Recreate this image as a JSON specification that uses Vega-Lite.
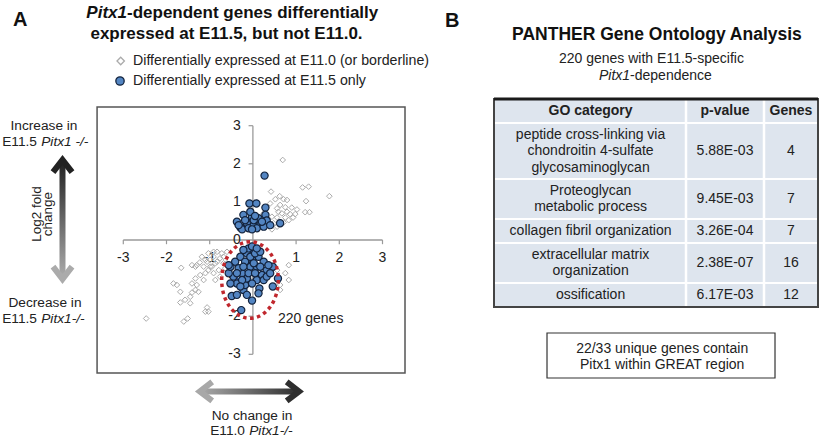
{
"$schema":"https://vega.github.io/schema/vega-lite/v6.json",
"padding":0,"spacing":0,"background":"white",
"config":{"view":{"stroke":null},"font":"Liberation Sans","text":{"color":"#222222"}},
"datasets":{
"genes":[
{"x":0.69,"y":2.10,"set":"g"},{"x":0.42,"y":1.27,"set":"g"},{"x":1.15,"y":1.38,"set":"g"},{"x":1.29,"y":1.40,"set":"g"},{"x":1.77,"y":1.15,"set":"g"},{"x":1.23,"y":1.02,"set":"g"},{"x":1.21,"y":0.73,"set":"g"},{"x":1.31,"y":0.73,"set":"g"},{"x":0.62,"y":1.15,"set":"g"},{"x":0.79,"y":1.05,"set":"g"},{"x":0.71,"y":1.07,"set":"g"},{"x":0.52,"y":1.07,"set":"g"},{"x":0.40,"y":0.96,"set":"g"},{"x":0.63,"y":0.92,"set":"g"},{"x":0.56,"y":0.83,"set":"g"},{"x":0.75,"y":0.86,"set":"g"},{"x":0.90,"y":0.85,"set":"g"},{"x":0.79,"y":0.74,"set":"g"},{"x":0.67,"y":0.70,"set":"g"},{"x":0.86,"y":0.68,"set":"g"},{"x":0.93,"y":0.59,"set":"g"},{"x":0.75,"y":0.59,"set":"g"},{"x":0.56,"y":0.59,"set":"g"},{"x":0.48,"y":0.44,"set":"g"},{"x":0.36,"y":0.37,"set":"g"},{"x":0.44,"y":0.28,"set":"g"},{"x":0.56,"y":0.35,"set":"g"},{"x":0.71,"y":0.46,"set":"g"},{"x":0.83,"y":0.52,"set":"g"},{"x":0.32,"y":0.52,"set":"g"},{"x":0.44,"y":0.61,"set":"g"},{"x":0.59,"y":0.74,"set":"g"},{"x":0.25,"y":0.70,"set":"g"},{"x":0.98,"y":0.68,"set":"g"},{"x":1.02,"y":0.80,"set":"g"},
{"x":-2.47,"y":-2.06,"set":"g"},{"x":-1.66,"y":-0.73,"set":"g"},{"x":-1.84,"y":-1.14,"set":"g"},{"x":-1.76,"y":-1.18,"set":"g"},{"x":-1.68,"y":-1.36,"set":"g"},{"x":-1.68,"y":-1.64,"set":"g"},{"x":-1.57,"y":-1.57,"set":"g"},{"x":-1.45,"y":-1.49,"set":"g"},{"x":-1.41,"y":-1.38,"set":"g"},{"x":-1.33,"y":-1.31,"set":"g"},{"x":-1.26,"y":-1.36,"set":"g"},{"x":-1.30,"y":-1.18,"set":"g"},{"x":-1.41,"y":-1.14,"set":"g"},{"x":-1.33,"y":-1.01,"set":"g"},{"x":-1.22,"y":-0.92,"set":"g"},{"x":-1.10,"y":-0.87,"set":"g"},{"x":-1.14,"y":-0.70,"set":"g"},{"x":-1.30,"y":-0.66,"set":"g"},{"x":-1.41,"y":-0.66,"set":"g"},{"x":-1.23,"y":-0.59,"set":"g"},{"x":-1.06,"y":-0.57,"set":"g"},{"x":-0.99,"y":-0.52,"set":"g"},{"x":-0.91,"y":-0.44,"set":"g"},{"x":-1.03,"y":-0.35,"set":"g"},{"x":-0.83,"y":-0.31,"set":"g"},{"x":-0.72,"y":-0.35,"set":"g"},{"x":-0.68,"y":-0.44,"set":"g"},{"x":-0.83,"y":-0.57,"set":"g"},{"x":-0.95,"y":-0.70,"set":"g"},{"x":-1.03,"y":-0.79,"set":"g"},{"x":-0.91,"y":-0.87,"set":"g"},{"x":-0.79,"y":-0.79,"set":"g"},{"x":-1.60,"y":-2.14,"set":"g"},{"x":-1.51,"y":-2.06,"set":"g"},{"x":-1.06,"y":-1.77,"set":"g"},{"x":-1.03,"y":-1.88,"set":"g"},{"x":-1.10,"y":-1.88,"set":"g"},{"x":-0.51,"y":-0.77,"set":"g"},{"x":-0.60,"y":-0.61,"set":"g"},{"x":-0.64,"y":-0.74,"set":"g"},{"x":-0.76,"y":-0.96,"set":"g"},{"x":-0.87,"y":-1.05,"set":"g"},{"x":-1.14,"y":-1.05,"set":"g"},{"x":-1.45,"y":-1.66,"set":"g"},{"x":-1.18,"y":-0.44,"set":"g"},{"x":-1.33,"y":-0.70,"set":"g"},{"x":-0.99,"y":-0.70,"set":"g"},{"x":-0.68,"y":-0.61,"set":"g"},{"x":-1.10,"y":-0.52,"set":"g"},{"x":-0.91,"y":-0.31,"set":"g"},{"x":-0.60,"y":-0.31,"set":"g"},{"x":-0.76,"y":-0.48,"set":"g"},{"x":-0.87,"y":-0.61,"set":"g"},
{"x":0.83,"y":-0.66,"set":"g"},{"x":0.83,"y":-1.05,"set":"g"},{"x":0.63,"y":-1.31,"set":"g"},{"x":0.63,"y":-1.18,"set":"g"},{"x":0.56,"y":-0.79,"set":"g"},{"x":0.75,"y":-0.87,"set":"g"},
{"x":0.27,"y":1.69,"set":"b"},{"x":-0.08,"y":0.96,"set":"b"},{"x":0.08,"y":0.96,"set":"b"},{"x":0.29,"y":0.85,"set":"b"},{"x":0.63,"y":0.44,"set":"b"},{"x":-0.37,"y":0.48,"set":"b"},{"x":-0.22,"y":0.66,"set":"b"},{"x":-0.02,"y":0.61,"set":"b"},{"x":0.13,"y":0.57,"set":"b"},{"x":0.29,"y":0.66,"set":"b"},{"x":0.32,"y":0.51,"set":"b"},{"x":-0.29,"y":0.33,"set":"b"},{"x":-0.14,"y":0.44,"set":"b"},{"x":0.02,"y":0.39,"set":"b"},{"x":0.17,"y":0.39,"set":"b"},{"x":-0.25,"y":0.28,"set":"b"},{"x":-0.10,"y":0.31,"set":"b"},{"x":0.09,"y":0.31,"set":"b"},{"x":0.25,"y":0.35,"set":"b"},{"x":0.40,"y":0.39,"set":"b"},{"x":-0.33,"y":0.39,"set":"b"},{"x":-0.18,"y":0.52,"set":"b"},{"x":0.02,"y":0.52,"set":"b"},{"x":0.21,"y":0.48,"set":"b"},{"x":-0.06,"y":0.74,"set":"b"},{"x":0.05,"y":0.63,"set":"b"},{"x":-0.02,"y":0.28,"set":"b"},
{"x":-0.27,"y":-1.84,"set":"b"},{"x":-0.02,"y":-1.59,"set":"b"},{"x":-0.49,"y":-1.47,"set":"b"},{"x":-0.37,"y":-1.44,"set":"b"},{"x":0.15,"y":-1.27,"set":"b"},{"x":0.46,"y":-0.70,"set":"b"},{"x":0.46,"y":-1.22,"set":"b"},{"x":-0.22,"y":-1.31,"set":"b"},{"x":-0.18,"y":-1.18,"set":"b"},{"x":-0.37,"y":-1.14,"set":"b"},{"x":-0.45,"y":-0.96,"set":"b"},{"x":-0.56,"y":-0.87,"set":"b"},{"x":-0.52,"y":-0.70,"set":"b"},{"x":-0.41,"y":-0.57,"set":"b"},{"x":-0.29,"y":-0.44,"set":"b"},{"x":-0.14,"y":-0.35,"set":"b"},{"x":0.02,"y":-0.31,"set":"b"},{"x":0.13,"y":-0.44,"set":"b"},{"x":0.25,"y":-0.57,"set":"b"},{"x":0.32,"y":-0.79,"set":"b"},{"x":0.21,"y":-0.92,"set":"b"},{"x":0.09,"y":-1.05,"set":"b"},{"x":-0.02,"y":-1.14,"set":"b"},{"x":-0.14,"y":-1.01,"set":"b"},{"x":-0.25,"y":-0.87,"set":"b"},{"x":-0.33,"y":-0.74,"set":"b"},{"x":-0.06,"y":-0.70,"set":"b"},{"x":0.09,"y":-0.70,"set":"b"},{"x":-0.02,"y":-0.52,"set":"b"},{"x":-0.18,"y":-0.57,"set":"b"},{"x":-0.25,"y":-1.05,"set":"b"},{"x":-0.10,"y":-0.87,"set":"b"},{"x":0.17,"y":-0.70,"set":"b"},{"x":0.05,"y":-0.87,"set":"b"},{"x":0.25,"y":-1.05,"set":"b"},{"x":-0.37,"y":-0.87,"set":"b"},{"x":-0.22,"y":-0.70,"set":"b"},{"x":-0.06,"y":-0.44,"set":"b"},{"x":0.05,"y":-0.35,"set":"b"},{"x":0.17,"y":-0.31,"set":"b"},{"x":-0.10,"y":-0.22,"set":"b"},{"x":-0.02,"y":-0.17,"set":"b"},{"x":0.09,"y":-0.22,"set":"b"},{"x":-0.22,"y":-0.26,"set":"b"},{"x":0.02,"y":-0.61,"set":"b"},{"x":0.32,"y":-0.96,"set":"b"},{"x":0.36,"y":-0.66,"set":"b"},{"x":-0.52,"y":-1.14,"set":"b"},{"x":-0.56,"y":-0.66,"set":"b"},{"x":0.13,"y":-1.40,"set":"b"},{"x":-0.14,"y":-1.44,"set":"b"},{"x":-0.29,"y":-1.22,"set":"b"},{"x":0.40,"y":-0.87,"set":"b"},{"x":0.58,"y":-1.01,"set":"b"}
],
"xt":[{"v":-3,"t":"-3"},{"v":-2,"t":"-2"},{"v":-1,"t":"-1"},{"v":1,"t":"1"},{"v":2,"t":"2"},{"v":3,"t":"3"}],
"yt":[{"v":-3,"t":"-3"},{"v":-2,"t":"-2"},{"v":-1,"t":"-1"},{"v":0,"t":"0"},{"v":1,"t":"1"},{"v":2,"t":"2"},{"v":3,"t":"3"}],
"go":[
{"row":0,"cat":"GO category","p":"p-value","g":"Genes","lines":1},
{"row":1,"cat":"peptide cross-linking via\nchondroitin 4-sulfate\nglycosaminoglycan","p":"5.88E-03","g":"4","lines":3},
{"row":2,"cat":"Proteoglycan\nmetabolic process","p":"9.45E-03","g":"7","lines":2},
{"row":3,"cat":"collagen fibril organization","p":"3.26E-04","g":"7","lines":1},
{"row":4,"cat":"extracellular matrix\norganization","p":"2.38E-07","g":"16","lines":2},
{"row":5,"cat":"ossification","p":"6.17E-03","g":"12","lines":1}
]
},
"hconcat":[
{"width":440,"height":440,
"layer":[
{"data":{"values":[{}]},"mark":{"type":"rect","fill":"transparent","stroke":"#555555","strokeWidth":1.5},"encoding":{"x":{"datum":-3.607,"type":"quantitative","scale":{"domain":[-5.854,4.331],"nice":false,"zero":false},"axis":null},"x2":{"datum":3.521},"y":{"datum":-3.491,"type":"quantitative","scale":{"domain":[-5.249,6.299],"nice":false,"zero":false},"axis":null},"y2":{"datum":3.491}}},
{"data":{"values":[{}]},"mark":{"type":"rule","color":"#9a9a9a","strokeWidth":1.3},"encoding":{"x":{"datum":-3,"type":"quantitative","scale":{"domain":[-5.854,4.331],"nice":false,"zero":false},"axis":null},"x2":{"datum":3},"y":{"datum":0,"type":"quantitative","scale":{"domain":[-5.249,6.299],"nice":false,"zero":false},"axis":null}}},
{"data":{"values":[{}]},"mark":{"type":"rule","color":"#9a9a9a","strokeWidth":1.3},"encoding":{"x":{"datum":0,"type":"quantitative","scale":{"domain":[-5.854,4.331],"nice":false,"zero":false},"axis":null},"y":{"datum":-3,"type":"quantitative","scale":{"domain":[-5.249,6.299],"nice":false,"zero":false},"axis":null},"y2":{"datum":3}}},
{"data":{"name":"xt"},"mark":{"type":"rule","color":"#9a9a9a","strokeWidth":1.2},"encoding":{"x":{"field":"v","type":"quantitative","scale":{"domain":[-5.854,4.331],"nice":false,"zero":false},"axis":null},"y":{"datum":0,"type":"quantitative","scale":{"domain":[-5.249,6.299],"nice":false,"zero":false},"axis":null},"y2":{"datum":-0.11}}},
{"data":{"name":"xt"},"mark":{"type":"rule","color":"#9a9a9a","strokeWidth":1.2},"encoding":{"y":{"field":"v","type":"quantitative","scale":{"domain":[-5.249,6.299],"nice":false,"zero":false},"axis":null},"x":{"datum":-0.1,"type":"quantitative","scale":{"domain":[-5.854,4.331],"nice":false,"zero":false},"axis":null},"x2":{"datum":0}}},
{"data":{"name":"xt"},"mark":{"type":"text","fontSize":14,"baseline":"middle","align":"center"},"encoding":{"x":{"field":"v","type":"quantitative","scale":{"domain":[-5.854,4.331],"nice":false,"zero":false},"axis":null},"y":{"datum":-0.465,"type":"quantitative","scale":{"domain":[-5.249,6.299],"nice":false,"zero":false},"axis":null},"text":{"field":"t"}}},
{"data":{"name":"yt"},"mark":{"type":"text","fontSize":14,"baseline":"middle","align":"right"},"encoding":{"y":{"field":"v","type":"quantitative","scale":{"domain":[-5.249,6.299],"nice":false,"zero":false},"axis":null},"x":{"datum":-0.28,"type":"quantitative","scale":{"domain":[-5.854,4.331],"nice":false,"zero":false},"axis":null},"text":{"field":"t"}}},
{"data":{"name":"genes"},"transform":[{"filter":"datum.set==='g'"}],"mark":{"type":"point","shape":"diamond","filled":false,"stroke":"#ababab","strokeWidth":1,"size":32,"opacity":1},"encoding":{"x":{"field":"x","type":"quantitative","scale":{"domain":[-5.854,4.331],"nice":false,"zero":false},"axis":null},"y":{"field":"y","type":"quantitative","scale":{"domain":[-5.249,6.299],"nice":false,"zero":false},"axis":null}}},
{"data":{"name":"genes"},"transform":[{"filter":"datum.set==='b'"}],"mark":{"type":"point","shape":"circle","filled":true,"fill":"#5385c2","stroke":"#13233d","strokeWidth":1.2,"size":52,"opacity":1},"encoding":{"x":{"field":"x","type":"quantitative","scale":{"domain":[-5.854,4.331],"nice":false,"zero":false},"axis":null},"y":{"field":"y","type":"quantitative","scale":{"domain":[-5.249,6.299],"nice":false,"zero":false},"axis":null}}},
{"data":{"values":[{}]},"mark":{"type":"point","shape":"M -1 0 C -1 -0.747 -0.552 -1.353 0 -1.353 C 0.552 -1.353 1 -0.747 1 0 C 1 0.747 0.552 1.353 0 1.353 C -0.552 1.353 -1 0.747 -1 0 Z","filled":false,"stroke":"#c0272d","strokeWidth":3.5,"strokeDash":[3.5,3.5],"size":3204,"opacity":1},"encoding":{"x":{"datum":-0.067,"type":"quantitative","scale":{"domain":[-5.854,4.331],"nice":false,"zero":false},"axis":null},"y":{"datum":-1.05,"type":"quantitative","scale":{"domain":[-5.249,6.299],"nice":false,"zero":false},"axis":null}}},
{"data":{"values":[{}]},"mark":{"type":"text","text":"220 genes","fontSize":14,"align":"left","baseline":"alphabetic"},"encoding":{"x":{"datum":0.581,"type":"quantitative","scale":{"domain":[-5.854,4.331],"nice":false,"zero":false},"axis":null},"y":{"datum":-2.18,"type":"quantitative","scale":{"domain":[-5.249,6.299],"nice":false,"zero":false},"axis":null}}},
{"data":{"values":[{}]},"mark":{"type":"text","text":"A","fontSize":20,"fontWeight":"bold","align":"left","baseline":"alphabetic","color":"#111111"},"encoding":{"x":{"datum":-5.553,"type":"quantitative","scale":{"domain":[-5.854,4.331],"nice":false,"zero":false},"axis":null},"y":{"datum":5.617,"type":"quantitative","scale":{"domain":[-5.249,6.299],"nice":false,"zero":false},"axis":null}}},
{"data":{"values":[{}]},"mark":{"type":"text","text":"Pitx1","fontSize":17,"fontWeight":"bold","fontStyle":"italic","align":"right","baseline":"alphabetic","color":"#111111"},"encoding":{"x":{"datum":-2.914,"type":"quantitative","scale":{"domain":[-5.854,4.331],"nice":false,"zero":false},"axis":null},"y":{"datum":5.827,"type":"quantitative","scale":{"domain":[-5.249,6.299],"nice":false,"zero":false},"axis":null}}},
{"data":{"values":[{}]},"mark":{"type":"text","text":"-dependent genes differentially","fontSize":17,"fontWeight":"bold","align":"left","baseline":"alphabetic","color":"#111111"},"encoding":{"x":{"datum":-2.914,"type":"quantitative","scale":{"domain":[-5.854,4.331],"nice":false,"zero":false},"axis":null},"y":{"datum":5.827,"type":"quantitative","scale":{"domain":[-5.249,6.299],"nice":false,"zero":false},"axis":null}}},
{"data":{"values":[{}]},"mark":{"type":"text","text":"expressed at E11.5, but not E11.0.","fontSize":17,"fontWeight":"bold","align":"center","baseline":"alphabetic","color":"#111111"},"encoding":{"x":{"datum":-0.611,"type":"quantitative","scale":{"domain":[-5.854,4.331],"nice":false,"zero":false},"axis":null},"y":{"datum":5.276,"type":"quantitative","scale":{"domain":[-5.249,6.299],"nice":false,"zero":false},"axis":null}}},
{"data":{"values":[{}]},"mark":{"type":"point","shape":"diamond","filled":false,"stroke":"#ababab","strokeWidth":1.3,"size":55,"opacity":1},"encoding":{"x":{"datum":-3.06,"type":"quantitative","scale":{"domain":[-5.854,4.331],"nice":false,"zero":false},"axis":null},"y":{"datum":4.698,"type":"quantitative","scale":{"domain":[-5.249,6.299],"nice":false,"zero":false},"axis":null}}},
{"data":{"values":[{}]},"mark":{"type":"point","shape":"circle","filled":true,"fill":"#5385c2","stroke":"#13233d","strokeWidth":1.3,"size":70,"opacity":1},"encoding":{"x":{"datum":-3.076,"type":"quantitative","scale":{"domain":[-5.854,4.331],"nice":false,"zero":false},"axis":null},"y":{"datum":4.173,"type":"quantitative","scale":{"domain":[-5.249,6.299],"nice":false,"zero":false},"axis":null}}},
{"data":{"values":[{}]},"mark":{"type":"text","text":"Differentially expressed at E11.0 (or borderline)","fontSize":14.2,"align":"left","baseline":"middle"},"encoding":{"x":{"datum":-2.775,"type":"quantitative","scale":{"domain":[-5.854,4.331],"nice":false,"zero":false},"axis":null},"y":{"datum":4.698,"type":"quantitative","scale":{"domain":[-5.249,6.299],"nice":false,"zero":false},"axis":null}}},
{"data":{"values":[{}]},"mark":{"type":"text","text":"Differentially expressed at E11.5 only","fontSize":14.2,"align":"left","baseline":"middle"},"encoding":{"x":{"datum":-2.775,"type":"quantitative","scale":{"domain":[-5.854,4.331],"nice":false,"zero":false},"axis":null},"y":{"datum":4.173,"type":"quantitative","scale":{"domain":[-5.249,6.299],"nice":false,"zero":false},"axis":null}}},
{"data":{"values":[{}]},"mark":{"type":"text","text":"Increase in","fontSize":13.7,"align":"center","baseline":"alphabetic"},"encoding":{"x":{"datum":-4.836,"type":"quantitative","scale":{"domain":[-5.854,4.331],"nice":false,"zero":false},"axis":null},"y":{"datum":2.887,"type":"quantitative","scale":{"domain":[-5.249,6.299],"nice":false,"zero":false},"axis":null}}},
{"data":{"values":[{}]},"mark":{"type":"text","text":"E11.5","fontSize":13.7,"align":"right","baseline":"alphabetic"},"encoding":{"x":{"datum":-4.998,"type":"quantitative","scale":{"domain":[-5.854,4.331],"nice":false,"zero":false},"axis":null},"y":{"datum":2.467,"type":"quantitative","scale":{"domain":[-5.249,6.299],"nice":false,"zero":false},"axis":null}}},
{"data":{"values":[{}]},"mark":{"type":"text","text":"Pitx1 -/-","fontSize":13.7,"fontStyle":"italic","align":"left","baseline":"alphabetic"},"encoding":{"x":{"datum":-4.9,"type":"quantitative","scale":{"domain":[-5.854,4.331],"nice":false,"zero":false},"axis":null},"y":{"datum":2.467,"type":"quantitative","scale":{"domain":[-5.249,6.299],"nice":false,"zero":false},"axis":null}}},
{"data":{"values":[{}]},"mark":{"type":"text","text":["Log2 fold","change"],"fontSize":13.5,"angle":270,"lineHeight":11.5,"align":"center","baseline":"middle"},"encoding":{"x":{"datum":-4.998,"type":"quantitative","scale":{"domain":[-5.854,4.331],"nice":false,"zero":false},"axis":null},"y":{"datum":0.682,"type":"quantitative","scale":{"domain":[-5.249,6.299],"nice":false,"zero":false},"axis":null}}},
{"data":{"values":[{}]},"mark":{"type":"text","text":"Decrease in","fontSize":13.7,"align":"center","baseline":"alphabetic"},"encoding":{"x":{"datum":-4.813,"type":"quantitative","scale":{"domain":[-5.854,4.331],"nice":false,"zero":false},"axis":null},"y":{"datum":-1.759,"type":"quantitative","scale":{"domain":[-5.249,6.299],"nice":false,"zero":false},"axis":null}}},
{"data":{"values":[{}]},"mark":{"type":"text","text":"E11.5","fontSize":13.7,"align":"right","baseline":"alphabetic"},"encoding":{"x":{"datum":-4.998,"type":"quantitative","scale":{"domain":[-5.854,4.331],"nice":false,"zero":false},"axis":null},"y":{"datum":-2.178,"type":"quantitative","scale":{"domain":[-5.249,6.299],"nice":false,"zero":false},"axis":null}}},
{"data":{"values":[{}]},"mark":{"type":"text","text":"Pitx1-/-","fontSize":13.7,"fontStyle":"italic","align":"left","baseline":"alphabetic"},"encoding":{"x":{"datum":-4.9,"type":"quantitative","scale":{"domain":[-5.854,4.331],"nice":false,"zero":false},"axis":null},"y":{"datum":-2.178,"type":"quantitative","scale":{"domain":[-5.249,6.299],"nice":false,"zero":false},"axis":null}}},
{"data":{"values":[{}]},"mark":{"type":"text","text":"No change in","fontSize":13.7,"align":"center","baseline":"alphabetic"},"encoding":{"x":{"datum":-0.021,"type":"quantitative","scale":{"domain":[-5.854,4.331],"nice":false,"zero":false},"axis":null},"y":{"datum":-4.724,"type":"quantitative","scale":{"domain":[-5.249,6.299],"nice":false,"zero":false},"axis":null}}},
{"data":{"values":[{}]},"mark":{"type":"text","text":"E11.0","fontSize":13.7,"align":"right","baseline":"alphabetic"},"encoding":{"x":{"datum":-0.183,"type":"quantitative","scale":{"domain":[-5.854,4.331],"nice":false,"zero":false},"axis":null},"y":{"datum":-5.118,"type":"quantitative","scale":{"domain":[-5.249,6.299],"nice":false,"zero":false},"axis":null}}},
{"data":{"values":[{}]},"mark":{"type":"text","text":"Pitx1-/-","fontSize":13.7,"fontStyle":"italic","align":"left","baseline":"alphabetic"},"encoding":{"x":{"datum":-0.085,"type":"quantitative","scale":{"domain":[-5.854,4.331],"nice":false,"zero":false},"axis":null},"y":{"datum":-5.118,"type":"quantitative","scale":{"domain":[-5.249,6.299],"nice":false,"zero":false},"axis":null}}},
{"data":{"values":[{}]},"mark":{"type":"rect","fill":{"gradient":"linear","x1":0,"y1":0,"x2":1,"y2":0,"stops":[{"offset":0,"color":"#a8a8a8"},{"offset":1,"color":"#2e2e2e"}]}},"encoding":{"x":{"datum":-1.19,"type":"quantitative","scale":{"domain":[-5.854,4.331],"nice":false,"zero":false},"axis":null},"x2":{"datum":1.04},"y":{"datum":-3.897,"type":"quantitative","scale":{"domain":[-5.249,6.299],"nice":false,"zero":false},"axis":null},"y2":{"datum":-4.055}}},
{"data":{"values":[{}]},"mark":{"type":"point","shape":"M 0.8 -1 L -0.5 0 L 0.8 1","filled":false,"stroke":"#a8a8a8","strokeWidth":6,"strokeJoin":"miter","size":361,"opacity":1},"encoding":{"x":{"datum":-1.118,"type":"quantitative","scale":{"domain":[-5.854,4.331],"nice":false,"zero":false},"axis":null},"y":{"datum":-3.976,"type":"quantitative","scale":{"domain":[-5.249,6.299],"nice":false,"zero":false},"axis":null}}},
{"data":{"values":[{}]},"mark":{"type":"point","shape":"M -0.8 -1 L 0.5 0 L -0.8 1","filled":false,"stroke":"#2e2e2e","strokeWidth":6,"strokeJoin":"miter","size":361,"opacity":1},"encoding":{"x":{"datum":0.958,"type":"quantitative","scale":{"domain":[-5.854,4.331],"nice":false,"zero":false},"axis":null},"y":{"datum":-3.976,"type":"quantitative","scale":{"domain":[-5.249,6.299],"nice":false,"zero":false},"axis":null}}},
{"data":{"values":[{}]},"mark":{"type":"rect","fill":{"gradient":"linear","x1":0,"y1":0,"x2":0,"y2":1,"stops":[{"offset":0,"color":"#222222"},{"offset":1,"color":"#ababab"}]}},"encoding":{"x":{"datum":-4.477,"type":"quantitative","scale":{"domain":[-5.854,4.331],"nice":false,"zero":false},"axis":null},"x2":{"datum":-4.338},"y":{"datum":2.047,"type":"quantitative","scale":{"domain":[-5.249,6.299],"nice":false,"zero":false},"axis":null},"y2":{"datum":-0.971}}},
{"data":{"values":[{}]},"mark":{"type":"point","shape":"M -1 0.8 L 0 -0.5 L 1 0.8","filled":false,"stroke":"#222222","strokeWidth":6,"strokeJoin":"miter","size":361,"opacity":1},"encoding":{"x":{"datum":-4.407,"type":"quantitative","scale":{"domain":[-5.854,4.331],"nice":false,"zero":false},"axis":null},"y":{"datum":1.979,"type":"quantitative","scale":{"domain":[-5.249,6.299],"nice":false,"zero":false},"axis":null}}},
{"data":{"values":[{}]},"mark":{"type":"point","shape":"M -1 -0.8 L 0 0.5 L 1 -0.8","filled":false,"stroke":"#ababab","strokeWidth":6,"strokeJoin":"miter","size":361,"opacity":1},"encoding":{"x":{"datum":-4.407,"type":"quantitative","scale":{"domain":[-5.854,4.331],"nice":false,"zero":false},"axis":null},"y":{"datum":-0.9,"type":"quantitative","scale":{"domain":[-5.249,6.299],"nice":false,"zero":false},"axis":null}}}
]},
{"width":388,"height":440,
"data":{"name":"go"},
"transform":[{"calculate":"2*datum.lines+1","as":"h"},{"window":[{"op":"sum","field":"h","as":"bot"}],"sort":[{"field":"row","order":"ascending"}],"frame":[null,0]},{"calculate":"datum.bot-datum.h","as":"top"},{"calculate":"datum.bot-datum.h/2","as":"mid"},{"calculate":"datum.bot-datum.h/2-(datum.lines-1)*1.03125","as":"ty"}],
"layer":[
{"mark":{"type":"rect","fill":"#dee5ee","stroke":"white","strokeWidth":2},"encoding":{"x":{"datum":0,"type":"quantitative","scale":{"domain":[-16.667,103.086],"nice":false,"zero":false},"axis":null},"x2":{"datum":100},"y":{"field":"top","type":"quantitative","scale":{"domain":[-12.375,42.625],"nice":false,"zero":false,"reverse":true},"axis":null},"y2":{"field":"bot"}}},
{"data":{"values":[{}]},"mark":{"type":"rule","color":"white","strokeWidth":2.5},"encoding":{"x":{"datum":59.26,"type":"quantitative","scale":{"domain":[-16.667,103.086],"nice":false,"zero":false},"axis":null},"y":{"datum":0,"type":"quantitative","scale":{"domain":[-12.375,42.625],"nice":false,"zero":false,"reverse":true},"axis":null},"y2":{"datum":26}}},
{"data":{"values":[{}]},"mark":{"type":"rule","color":"white","strokeWidth":2.5},"encoding":{"x":{"datum":83.33,"type":"quantitative","scale":{"domain":[-16.667,103.086],"nice":false,"zero":false},"axis":null},"y":{"datum":0,"type":"quantitative","scale":{"domain":[-12.375,42.625],"nice":false,"zero":false,"reverse":true},"axis":null},"y2":{"datum":26}}},
{"data":{"values":[{}]},"mark":{"type":"rect","fill":"transparent","stroke":"#444444","strokeWidth":2},"encoding":{"x":{"datum":0,"type":"quantitative","scale":{"domain":[-16.667,103.086],"nice":false,"zero":false},"axis":null},"x2":{"datum":100},"y":{"datum":0,"type":"quantitative","scale":{"domain":[-12.375,42.625],"nice":false,"zero":false,"reverse":true},"axis":null},"y2":{"datum":26}}},
{"data":{"values":[{}]},"mark":{"type":"rule","color":"#1a1a1a","strokeWidth":3},"encoding":{"x":{"datum":0,"type":"quantitative","scale":{"domain":[-16.667,103.086],"nice":false,"zero":false},"axis":null},"x2":{"datum":100},"y":{"datum":0,"type":"quantitative","scale":{"domain":[-12.375,42.625],"nice":false,"zero":false,"reverse":true},"axis":null}}},
{"transform":[{"filter":"datum.row===0"}],"mark":{"type":"text","fontSize":14,"fontWeight":"bold","align":"center","baseline":"middle"},"encoding":{"x":{"datum":29.8,"type":"quantitative","scale":{"domain":[-16.667,103.086],"nice":false,"zero":false},"axis":null},"y":{"field":"mid","type":"quantitative","scale":{"domain":[-12.375,42.625],"nice":false,"zero":false,"reverse":true},"axis":null},"text":{"field":"cat"}}},
{"transform":[{"filter":"datum.row===0"}],"mark":{"type":"text","fontSize":14,"fontWeight":"bold","align":"center","baseline":"middle"},"encoding":{"x":{"datum":71.3,"type":"quantitative","scale":{"domain":[-16.667,103.086],"nice":false,"zero":false},"axis":null},"y":{"field":"mid","type":"quantitative","scale":{"domain":[-12.375,42.625],"nice":false,"zero":false,"reverse":true},"axis":null},"text":{"field":"p"}}},
{"transform":[{"filter":"datum.row===0"}],"mark":{"type":"text","fontSize":14,"fontWeight":"bold","align":"center","baseline":"middle"},"encoding":{"x":{"datum":91.67,"type":"quantitative","scale":{"domain":[-16.667,103.086],"nice":false,"zero":false},"axis":null},"y":{"field":"mid","type":"quantitative","scale":{"domain":[-12.375,42.625],"nice":false,"zero":false,"reverse":true},"axis":null},"text":{"field":"g"}}},
{"transform":[{"filter":"datum.row>0"}],"mark":{"type":"text","fontSize":14,"align":"center","baseline":"middle","lineBreak":"\n","lineHeight":16.5},"encoding":{"x":{"datum":29.8,"type":"quantitative","scale":{"domain":[-16.667,103.086],"nice":false,"zero":false},"axis":null},"y":{"field":"ty","type":"quantitative","scale":{"domain":[-12.375,42.625],"nice":false,"zero":false,"reverse":true},"axis":null},"text":{"field":"cat"}}},
{"transform":[{"filter":"datum.row>0"}],"mark":{"type":"text","fontSize":14,"align":"center","baseline":"middle"},"encoding":{"x":{"datum":71.3,"type":"quantitative","scale":{"domain":[-16.667,103.086],"nice":false,"zero":false},"axis":null},"y":{"field":"mid","type":"quantitative","scale":{"domain":[-12.375,42.625],"nice":false,"zero":false,"reverse":true},"axis":null},"text":{"field":"p"}}},
{"transform":[{"filter":"datum.row>0"}],"mark":{"type":"text","fontSize":14,"align":"center","baseline":"middle"},"encoding":{"x":{"datum":91.67,"type":"quantitative","scale":{"domain":[-16.667,103.086],"nice":false,"zero":false},"axis":null},"y":{"field":"mid","type":"quantitative","scale":{"domain":[-12.375,42.625],"nice":false,"zero":false,"reverse":true},"axis":null},"text":{"field":"g"}}},
{"data":{"values":[{}]},"mark":{"type":"text","text":"B","fontSize":20,"fontWeight":"bold","align":"left","baseline":"alphabetic","color":"#111111"},"encoding":{"x":{"datum":-15.1,"type":"quantitative","scale":{"domain":[-16.667,103.086],"nice":false,"zero":false},"axis":null},"y":{"datum":-9.0,"type":"quantitative","scale":{"domain":[-12.375,42.625],"nice":false,"zero":false,"reverse":true},"axis":null}}},
{"data":{"values":[{}]},"mark":{"type":"text","text":"PANTHER Gene Ontology Analysis","fontSize":17.5,"fontWeight":"bold","align":"center","baseline":"alphabetic","color":"#111111"},"encoding":{"x":{"datum":50.3,"type":"quantitative","scale":{"domain":[-16.667,103.086],"nice":false,"zero":false},"axis":null},"y":{"datum":-7.375,"type":"quantitative","scale":{"domain":[-12.375,42.625],"nice":false,"zero":false,"reverse":true},"axis":null}}},
{"data":{"values":[{}]},"mark":{"type":"text","text":"220 genes with E11.5-specific","fontSize":14,"align":"center","baseline":"alphabetic"},"encoding":{"x":{"datum":48.6,"type":"quantitative","scale":{"domain":[-16.667,103.086],"nice":false,"zero":false},"axis":null},"y":{"datum":-4.46,"type":"quantitative","scale":{"domain":[-12.375,42.625],"nice":false,"zero":false,"reverse":true},"axis":null}}},
{"data":{"values":[{}]},"mark":{"type":"text","text":"Pitx1","fontSize":14,"fontStyle":"italic","align":"right","baseline":"alphabetic"},"encoding":{"x":{"datum":42.0,"type":"quantitative","scale":{"domain":[-16.667,103.086],"nice":false,"zero":false},"axis":null},"y":{"datum":-2.375,"type":"quantitative","scale":{"domain":[-12.375,42.625],"nice":false,"zero":false,"reverse":true},"axis":null}}},
{"data":{"values":[{}]},"mark":{"type":"text","text":"-dependence","fontSize":14,"align":"left","baseline":"alphabetic"},"encoding":{"x":{"datum":42.0,"type":"quantitative","scale":{"domain":[-16.667,103.086],"nice":false,"zero":false},"axis":null},"y":{"datum":-2.375,"type":"quantitative","scale":{"domain":[-12.375,42.625],"nice":false,"zero":false,"reverse":true},"axis":null}}},
{"data":{"values":[{}]},"mark":{"type":"rect","fill":"transparent","stroke":"#333333","strokeWidth":1.2},"encoding":{"x":{"datum":16.36,"type":"quantitative","scale":{"domain":[-16.667,103.086],"nice":false,"zero":false},"axis":null},"x2":{"datum":86.73},"y":{"datum":29.25,"type":"quantitative","scale":{"domain":[-12.375,42.625],"nice":false,"zero":false,"reverse":true},"axis":null},"y2":{"datum":34.875}}},
{"data":{"values":[{}]},"mark":{"type":"text","text":["22/33 unique genes contain","Pitx1 within GREAT region"],"fontSize":14,"lineHeight":15.5,"align":"center","baseline":"alphabetic"},"encoding":{"x":{"datum":51.9,"type":"quantitative","scale":{"domain":[-16.667,103.086],"nice":false,"zero":false},"axis":null},"y":{"datum":31.75,"type":"quantitative","scale":{"domain":[-12.375,42.625],"nice":false,"zero":false,"reverse":true},"axis":null}}}
]}
]
}
